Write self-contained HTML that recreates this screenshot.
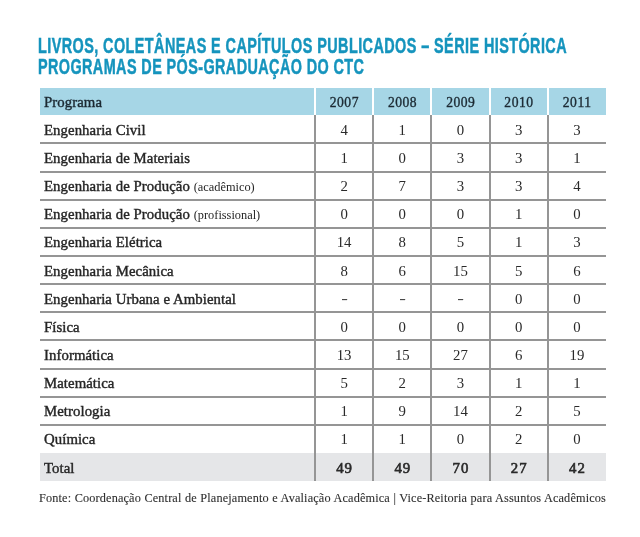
<!DOCTYPE html>
<html lang="pt"><head><meta charset="utf-8"><title>Livros, coletâneas e capítulos publicados</title><style>
*{margin:0;padding:0;box-sizing:border-box}
html,body{width:640px;height:537px;background:#fff;overflow:hidden}
body{position:relative;font-family:"Liberation Serif",serif;color:#262626}
.t{position:absolute;left:38.4px;font:bold 21.3px/20px "Liberation Sans",sans-serif;color:#1594bd;white-space:nowrap;transform:scaleX(0.677);transform-origin:0 0;letter-spacing:0;-webkit-text-stroke:0.5px #1594bd}
.hd{position:absolute;left:40px;top:88px;width:566px;height:27px;background:#a6d6e6}
.sep{position:absolute;top:88px;height:27px;width:2px;background:#fff}
.vl{position:absolute;top:115px;height:366px;width:2px;background:#959595}
.hl{position:absolute;left:40px;width:566px;height:2px;background:#959595}
.tot{position:absolute;left:40px;width:566px;top:453px;height:28px;background:#e5e6e8}
.c{position:absolute;white-space:nowrap;font-size:14.8px;line-height:20px;-webkit-text-stroke:0.4px currentColor;letter-spacing:0.06px}
.n{text-align:center;-webkit-text-stroke:0;color:#2a2a2a;letter-spacing:0}
.d{display:inline-block;transform:translateY(-0.8px) scaleX(1.35);color:#444}
.s{font-size:12.35px;-webkit-text-stroke:0;letter-spacing:0}
.h{color:#1c2a33}
.b{font-weight:normal;-webkit-text-stroke:0.6px currentColor;letter-spacing:1px;text-indent:1px}
.f{position:absolute;left:39px;font-size:12.25px;line-height:16px;white-space:nowrap;color:#2e2e2e;word-spacing:0.25px;letter-spacing:0.15px;-webkit-text-stroke:0.1px currentColor}
</style></head><body>
<div class="t" style="top:36.3px;letter-spacing:0.63px">LIVROS, COLETÂNEAS E CAPÍTULOS PUBLICADOS – SÉRIE HISTÓRICA</div>
<div class="t" style="top:56.8px;letter-spacing:0.59px">PROGRAMAS DE PÓS-GRADUAÇÃO DO CTC</div>
<div class="hd"></div>
<div class="sep" style="left:314px"></div>
<div class="sep" style="left:372.2px"></div>
<div class="sep" style="left:430.4px"></div>
<div class="sep" style="left:488.6px"></div>
<div class="sep" style="left:546.8px"></div>
<div class="c h" style="left:44px;top:92.2px">Programa</div>
<div class="c n h" style="left:315px;width:58.2px;top:92.61px;font-size:13.6px;letter-spacing:0.5px;text-indent:0.5px;-webkit-text-stroke:0.35px currentColor">2007</div>
<div class="c n h" style="left:373.2px;width:58.2px;top:92.61px;font-size:13.6px;letter-spacing:0.5px;text-indent:0.5px;-webkit-text-stroke:0.35px currentColor">2008</div>
<div class="c n h" style="left:431.4px;width:58.2px;top:92.61px;font-size:13.6px;letter-spacing:0.5px;text-indent:0.5px;-webkit-text-stroke:0.35px currentColor">2009</div>
<div class="c n h" style="left:489.6px;width:58.2px;top:92.61px;font-size:13.6px;letter-spacing:0.5px;text-indent:0.5px;-webkit-text-stroke:0.35px currentColor">2010</div>
<div class="c n h" style="left:547.8px;width:58.2px;top:92.61px;font-size:13.6px;letter-spacing:0.5px;text-indent:0.5px;-webkit-text-stroke:0.35px currentColor">2011</div>
<div class="tot"></div>
<div class="hl" style="top:142.4px"></div>
<div class="hl" style="top:170.55px"></div>
<div class="hl" style="top:198.7px"></div>
<div class="hl" style="top:226.85px"></div>
<div class="hl" style="top:255px"></div>
<div class="hl" style="top:283.15px"></div>
<div class="hl" style="top:311.3px"></div>
<div class="hl" style="top:339.45px"></div>
<div class="hl" style="top:367.6px"></div>
<div class="hl" style="top:395.75px"></div>
<div class="hl" style="top:423.9px"></div>
<div class="vl" style="left:314px"></div>
<div class="vl" style="left:372.2px"></div>
<div class="vl" style="left:430.4px"></div>
<div class="vl" style="left:488.6px"></div>
<div class="vl" style="left:546.8px"></div>
<div class="c" style="left:44px;top:119.81px">Engenharia Civil</div>
<div class="c n" style="left:315px;width:58.2px;top:119.81px">4</div>
<div class="c n" style="left:373.2px;width:58.2px;top:119.81px">1</div>
<div class="c n" style="left:431.4px;width:58.2px;top:119.81px">0</div>
<div class="c n" style="left:489.6px;width:58.2px;top:119.81px">3</div>
<div class="c n" style="left:547.8px;width:58.2px;top:119.81px">3</div>
<div class="c" style="left:44px;top:147.96px">Engenharia de Materiais</div>
<div class="c n" style="left:315px;width:58.2px;top:147.96px">1</div>
<div class="c n" style="left:373.2px;width:58.2px;top:147.96px">0</div>
<div class="c n" style="left:431.4px;width:58.2px;top:147.96px">3</div>
<div class="c n" style="left:489.6px;width:58.2px;top:147.96px">3</div>
<div class="c n" style="left:547.8px;width:58.2px;top:147.96px">1</div>
<div class="c" style="left:44px;top:176.11px">Engenharia de Produção <span class="s">(acadêmico)</span></div>
<div class="c n" style="left:315px;width:58.2px;top:176.11px">2</div>
<div class="c n" style="left:373.2px;width:58.2px;top:176.11px">7</div>
<div class="c n" style="left:431.4px;width:58.2px;top:176.11px">3</div>
<div class="c n" style="left:489.6px;width:58.2px;top:176.11px">3</div>
<div class="c n" style="left:547.8px;width:58.2px;top:176.11px">4</div>
<div class="c" style="left:44px;top:204.25px">Engenharia de Produção <span class="s">(profissional)</span></div>
<div class="c n" style="left:315px;width:58.2px;top:204.25px">0</div>
<div class="c n" style="left:373.2px;width:58.2px;top:204.25px">0</div>
<div class="c n" style="left:431.4px;width:58.2px;top:204.25px">0</div>
<div class="c n" style="left:489.6px;width:58.2px;top:204.25px">1</div>
<div class="c n" style="left:547.8px;width:58.2px;top:204.25px">0</div>
<div class="c" style="left:44px;top:232.41px">Engenharia Elétrica</div>
<div class="c n" style="left:315px;width:58.2px;top:232.41px">14</div>
<div class="c n" style="left:373.2px;width:58.2px;top:232.41px">8</div>
<div class="c n" style="left:431.4px;width:58.2px;top:232.41px">5</div>
<div class="c n" style="left:489.6px;width:58.2px;top:232.41px">1</div>
<div class="c n" style="left:547.8px;width:58.2px;top:232.41px">3</div>
<div class="c" style="left:44px;top:260.56px">Engenharia Mecânica</div>
<div class="c n" style="left:315px;width:58.2px;top:260.56px">8</div>
<div class="c n" style="left:373.2px;width:58.2px;top:260.56px">6</div>
<div class="c n" style="left:431.4px;width:58.2px;top:260.56px">15</div>
<div class="c n" style="left:489.6px;width:58.2px;top:260.56px">5</div>
<div class="c n" style="left:547.8px;width:58.2px;top:260.56px">6</div>
<div class="c" style="left:44px;top:288.7px">Engenharia Urbana e Ambiental</div>
<div class="c n" style="left:315px;width:58.2px;top:288.7px"><span class="d">-</span></div>
<div class="c n" style="left:373.2px;width:58.2px;top:288.7px"><span class="d">-</span></div>
<div class="c n" style="left:431.4px;width:58.2px;top:288.7px"><span class="d">-</span></div>
<div class="c n" style="left:489.6px;width:58.2px;top:288.7px">0</div>
<div class="c n" style="left:547.8px;width:58.2px;top:288.7px">0</div>
<div class="c" style="left:44px;top:316.86px">Física</div>
<div class="c n" style="left:315px;width:58.2px;top:316.86px">0</div>
<div class="c n" style="left:373.2px;width:58.2px;top:316.86px">0</div>
<div class="c n" style="left:431.4px;width:58.2px;top:316.86px">0</div>
<div class="c n" style="left:489.6px;width:58.2px;top:316.86px">0</div>
<div class="c n" style="left:547.8px;width:58.2px;top:316.86px">0</div>
<div class="c" style="left:44px;top:345px">Informática</div>
<div class="c n" style="left:315px;width:58.2px;top:345px">13</div>
<div class="c n" style="left:373.2px;width:58.2px;top:345px">15</div>
<div class="c n" style="left:431.4px;width:58.2px;top:345px">27</div>
<div class="c n" style="left:489.6px;width:58.2px;top:345px">6</div>
<div class="c n" style="left:547.8px;width:58.2px;top:345px">19</div>
<div class="c" style="left:44px;top:373.15px">Matemática</div>
<div class="c n" style="left:315px;width:58.2px;top:373.15px">5</div>
<div class="c n" style="left:373.2px;width:58.2px;top:373.15px">2</div>
<div class="c n" style="left:431.4px;width:58.2px;top:373.15px">3</div>
<div class="c n" style="left:489.6px;width:58.2px;top:373.15px">1</div>
<div class="c n" style="left:547.8px;width:58.2px;top:373.15px">1</div>
<div class="c" style="left:44px;top:401.31px">Metrologia</div>
<div class="c n" style="left:315px;width:58.2px;top:401.31px">1</div>
<div class="c n" style="left:373.2px;width:58.2px;top:401.31px">9</div>
<div class="c n" style="left:431.4px;width:58.2px;top:401.31px">14</div>
<div class="c n" style="left:489.6px;width:58.2px;top:401.31px">2</div>
<div class="c n" style="left:547.8px;width:58.2px;top:401.31px">5</div>
<div class="c" style="left:44px;top:429.45px">Química</div>
<div class="c n" style="left:315px;width:58.2px;top:429.45px">1</div>
<div class="c n" style="left:373.2px;width:58.2px;top:429.45px">1</div>
<div class="c n" style="left:431.4px;width:58.2px;top:429.45px">0</div>
<div class="c n" style="left:489.6px;width:58.2px;top:429.45px">2</div>
<div class="c n" style="left:547.8px;width:58.2px;top:429.45px">0</div>
<div class="c" style="left:44px;top:457.61px">Total</div>
<div class="c n b" style="left:315px;width:58.2px;top:457.61px">49</div>
<div class="c n b" style="left:373.2px;width:58.2px;top:457.61px">49</div>
<div class="c n b" style="left:431.4px;width:58.2px;top:457.61px">70</div>
<div class="c n b" style="left:489.6px;width:58.2px;top:457.61px">27</div>
<div class="c n b" style="left:547.8px;width:58.2px;top:457.61px">42</div>
<div class="f" style="top:489.87px">Fonte: Coordenação Central de Planejamento e Avaliação Acadêmica | Vice-Reitoria para Assuntos Acadêmicos</div>
</body></html>
